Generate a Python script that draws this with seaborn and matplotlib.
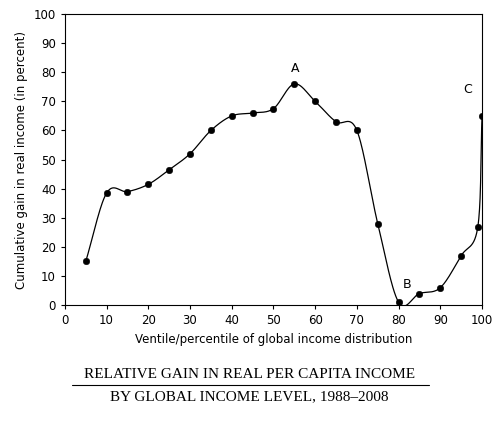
import numpy as np
import matplotlib
matplotlib.use("Agg")
import matplotlib.pyplot as plt
import seaborn as sns

# dados
percentis = [5, 10, 15, 20, 25, 30, 35, 40, 45, 50, 55, 60, 65, 70, 75, 80, 85, 90, 95, 99, 100]
ganho = [15, 38.5, 39, 41.5, 46.5, 52, 60, 65, 66, 67.5, 76, 70, 63, 60, 28, 1, 4, 6, 17, 27, 65]
rotulos = {"A": (55, 76), "B": (80, 1), "C": (99, 65)}

sns.set_style("ticks", {"text.color": "black", "axes.labelcolor": "black",
                        "xtick.color": "black", "ytick.color": "black"})
plt.rcParams["font.family"] = ["DejaVu Sans"]


def catmull_rom(x, y, n=30):
    x = np.asarray(x, float)
    y = np.asarray(y, float)
    px = np.concatenate([[2 * x[0] - x[1]], x, [2 * x[-1] - x[-2]]])
    py = np.concatenate([[2 * y[0] - y[1]], y, [2 * y[-1] - y[-2]]])
    xs, ys = [], []
    for i in range(1, len(px) - 2):
        t = np.linspace(0, 1, n)
        for p, out in ((px, xs), (py, ys)):
            p0, p1, p2, p3 = p[i - 1], p[i], p[i + 1], p[i + 2]
            out.append(0.5 * ((2 * p1) + (-p0 + p2) * t + (2 * p0 - 5 * p1 + 4 * p2 - p3) * t ** 2
                              + (-p0 + 3 * p1 - 3 * p2 + p3) * t ** 3))
    return np.concatenate(xs), np.concatenate(ys)


fig = plt.figure(figsize=(4.99, 4.25), dpi=100)
ax = fig.add_axes([0.130, 0.282, 0.836, 0.685])

sx, sy = catmull_rom(percentis, ganho)
ax.plot(sx, sy, color="black", lw=0.9)
sns.scatterplot(x=percentis, y=ganho, color="black", s=22, edgecolor="black", ax=ax, zorder=3)

ax.text(rotulos["A"][0] + 0.3, rotulos["A"][1] + 3, "A", ha="center", va="bottom", fontsize=9)
ax.text(rotulos["B"][0] + 2, rotulos["B"][1] + 4, "B", ha="center", va="bottom", fontsize=9)
ax.text(rotulos["C"][0] - 2.5, rotulos["C"][1] + 7, "C", ha="center", va="bottom", fontsize=9)

ax.set_xlim(0, 100)
ax.set_ylim(0, 100)
ax.set_xticks(range(0, 101, 10))
ax.set_yticks(range(0, 101, 10))
ax.tick_params(labelsize=8.5, length=3, color="black", labelcolor="black")
for s in ax.spines.values():
    s.set_visible(True)
    s.set_color("black")
    s.set_linewidth(0.8)
ax.set_xlabel("Ventile/percentile of global income distribution", fontsize=8.5, color="black")
ax.set_ylabel("Cumulative gain in real income (in percent)", fontsize=8.5, color="black")

fig.text(0.5, 1 - 375 / 425, "RELATIVE GAIN IN REAL PER CAPITA INCOME", ha="center", va="center",
         family="Liberation Serif", fontsize=11, color="black")
fig.text(0.5, 1 - 397 / 425, "BY GLOBAL INCOME LEVEL, 1988\u20132008", ha="center", va="center",
         family="Liberation Serif", fontsize=11, color="black")
fig.add_artist(plt.Line2D([0.145, 0.86], [1 - 385 / 425] * 2, color="black", lw=0.8))

fig.savefig("out.png", dpi=100)
